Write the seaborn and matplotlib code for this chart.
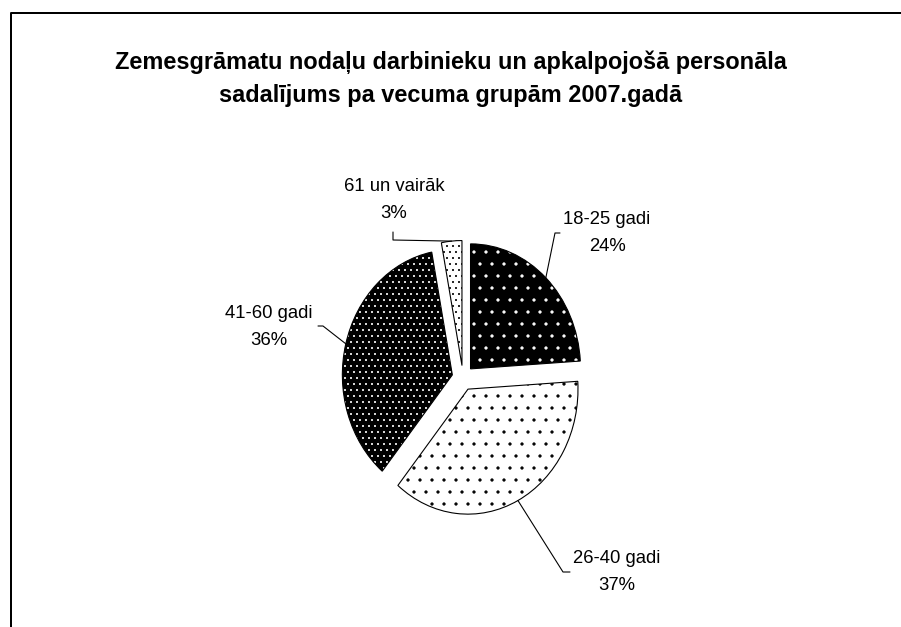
import matplotlib.pyplot as plt
import seaborn as sns
from matplotlib.lines import Line2D
from matplotlib.patches import Wedge
import numpy as np

# data
groups = ["18-25 gadi", "26-40 gadi", "41-60 gadi", "61 un vairāk"]
shares = [24, 37, 36, 3]
pct_labels = ["24%", "37%", "36%", "3%"]
title = ("Zemesgrāmatu nodaļu darbinieku un apkalpojošā personāla\n"
         "sadalījums pa vecuma grupām 2007.gadā")

# styles
fills = ["black", "white", "black", "white"]
dot_colors = ["white", "black", "white", "black"]
hatches = [".", ".", "..", ".."]

sns.set_theme(style="white")
plt.rcParams["font.family"] = ["Liberation Sans", "DejaVu Sans"]
plt.rcParams["hatch.linewidth"] = 0.8

W, H = 901, 627
CX, CY, RX, RY = 463, 378, 110, 125   # pie centre / radii in pixels


def px(x, y):
    # pixel position (from top-left) -> axes data units
    return (x - CX) / RX, (CY - y) / RY


# dpi 72 so points == pixels (also gives the hatch density we want)
fig = plt.figure(figsize=(W / 72, H / 72), dpi=72)
ax = fig.add_axes([0, 0, 1, 1])

wedges, _ = ax.pie(shares, startangle=90, counterclock=False,
                   explode=[0.1] * len(shares),
                   wedgeprops=dict(linewidth=0))
ax.set_aspect("auto")
ax.set_xlim(-CX / RX, (W - CX) / RX)
ax.set_ylim(-(H - CY) / RY, CY / RY)
ax.axis("off")

for w, fc, dc, h in zip(wedges, fills, dot_colors, hatches):
    w.set_facecolor(fc)
    w.set_edgecolor(dc)
    w.set_hatch(h)
    ax.add_patch(Wedge(w.center, w.r, w.theta1, w.theta2, fill=False,
                       edgecolor="black", linewidth=1.1, zorder=3))

# label centres and leader elbows (pixels)
label_pos = [(607, 233), (617, 572), (269, 327), (394, 200)]
elbows = [[(555, 233), (560, 233)],
          [(563, 572), (570, 572)],
          [(323, 326), (318, 326)],
          [(393, 240), (393, 232)]]

for w, g, p, lp, el in zip(wedges, groups, pct_labels, label_pos, elbows):
    mid = np.deg2rad((w.theta1 + w.theta2) / 2)
    x0 = w.center[0] + w.r * np.cos(mid)
    y0 = w.center[1] + w.r * np.sin(mid)
    pts = [(x0, y0)] + [px(*e) for e in el]
    ax.plot([q[0] for q in pts], [q[1] for q in pts], color="black", lw=1.1)
    tx, ty = px(*lp)
    ax.text(tx, ty, f"{g}\n{p}", ha="center", va="center",
            fontsize=18.5, linespacing=1.7, color="black")

fig.text(0.5, 1 - 79 / H, title, ha="center", va="center", color="black",
         fontsize=23.5, fontweight="bold", linespacing=1.55)

# chart area border (only left and top visible)
bx, by = 10.5 / W, 1 - 12.5 / H
fig.add_artist(Line2D([bx, bx, 1.01], [-0.01, by, by],
                      transform=fig.transFigure, color="black", lw=2))

fig.savefig("out.png", dpi=72)
